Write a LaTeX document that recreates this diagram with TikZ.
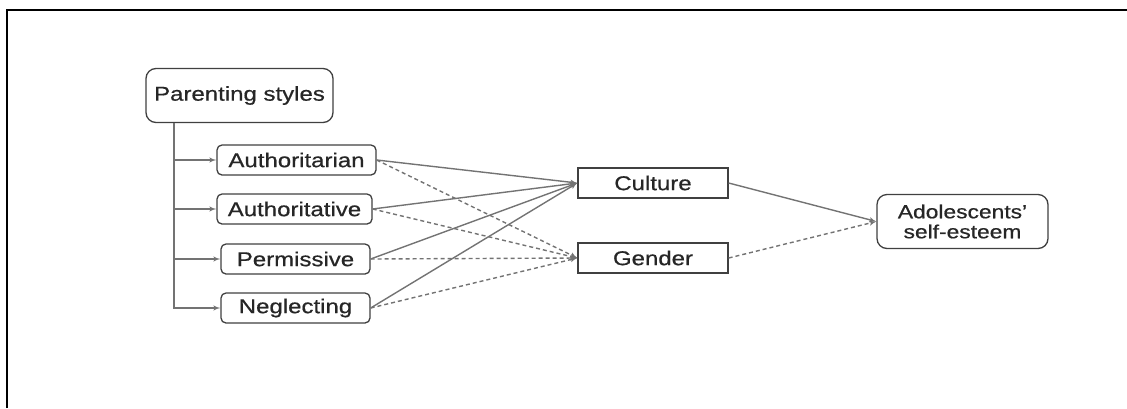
\documentclass[tikz,border=0pt]{standalone}
\usepackage{fontspec}
\setmainfont{Liberation Sans}[FakeStretch=1.2, FakeBold=0.6]
\usepackage{tikz}
\usetikzlibrary{shapes,arrows}
\usetikzlibrary{positioning}
\tikzstyle{block} = [rectangle, draw=black!75, line width=1.3pt, fill=white,
text centered, rounded corners=5pt, minimum height=30pt, inner sep=0pt, text=black!85]
\tikzstyle{outcome} = [block, rounded corners=10pt, minimum height=54pt, align=center]
\tikzstyle{line} = [draw, black!55, line width=1.4pt, -latex']
\tikzstyle{dline} = [line, dash pattern=on 4pt off 3pt]

\begin{document}
\begin{tikzpicture}[x=1pt, y=-1pt, node distance = 49pt, font=\fontsize{20}{23}\selectfont]
	
	\useasboundingbox (0,0) rectangle (1127,408);
	\draw [line width=2.5pt] (7,408) -- (7,10) -- (1127,10);
	
	\node [outcome, minimum width=187pt] (ps) at (239.5,95.5) {Parenting styles};
	\node [block, minimum width=159pt] (s1) at (296.5,160) {Authoritarian};
	\node [block, below of=s1, minimum width=155pt, xshift=-2pt] (s2) {Authoritative};
	\node [block, below of=s2, minimum width=149pt, xshift=1pt, node distance=50pt] (s3) {Permissive};
	\node [block, below of=s3, minimum width=149pt] (s4) {Neglecting};
	\node [block, rounded corners=0pt, minimum width=150pt] (cu) at (653,183) {Culture};
	\node [block, rounded corners=0pt, minimum width=150pt] (ge) at (653,258) {Gender};
	\node [outcome, minimum width=171pt, font=\fontsize{19}{20}\selectfont] (ae) at (962.5,221.5) {Adolescents'\\self-esteem};
	\coordinate (trunk) at (174,123);
	
	% Draw edges
	\foreach \s in {s1,s2,s3,s4}
	\path [line] (trunk) |- (\s.west);
	\foreach \s in {s1,s2,s3,s4}
	{
		\path [line] (\s.east) -- (cu.west);
		\path [dline] (\s.east) -- (ge.west);
	}
	\path [line] (cu.east) -- (ae.west);
	\path [dline] (ge.east) -- (ae.west);
	
\end{tikzpicture}
\end{document}
